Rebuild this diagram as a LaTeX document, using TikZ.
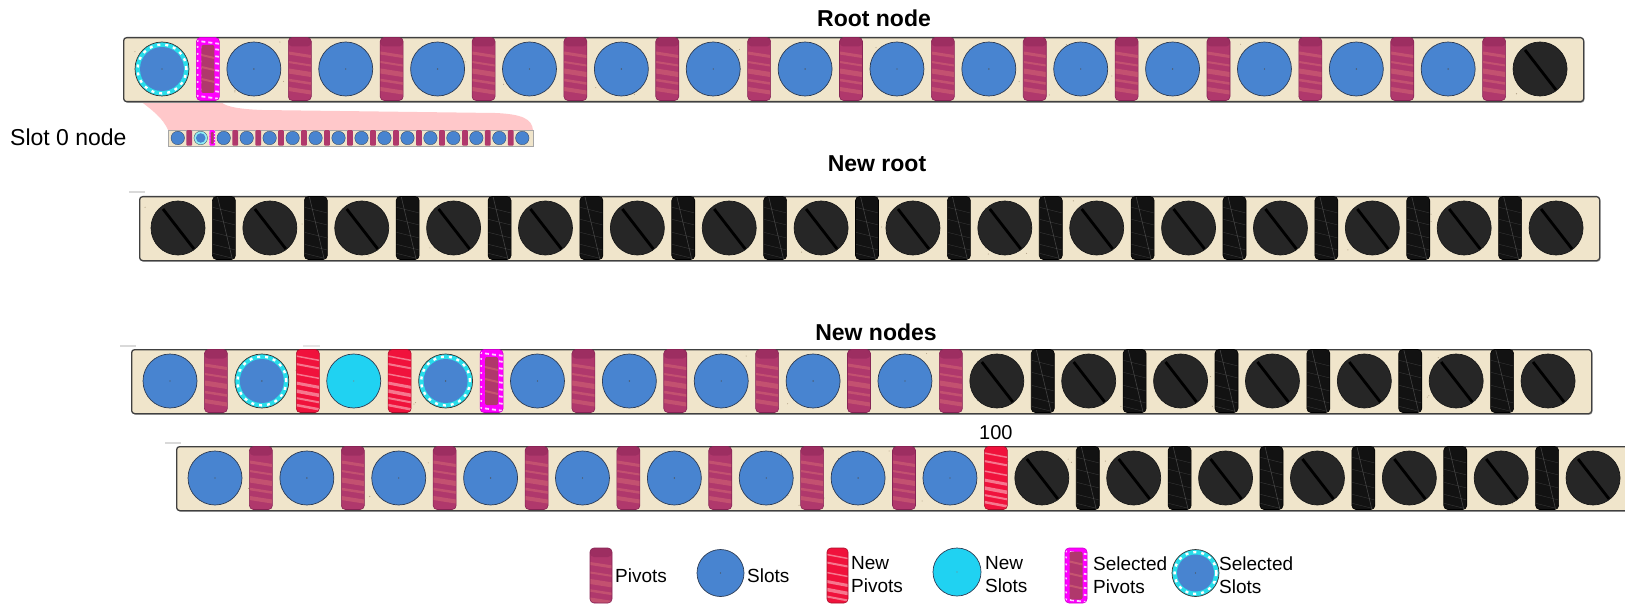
\documentclass[tikz,border=0pt]{standalone}
\usepackage{fontspec}
\setmainfont{Liberation Sans}
\usetikzlibrary{calc}
\definecolor{beige}{RGB}{240,229,203}
\definecolor{slotblue}{RGB}{72,132,208}
\definecolor{slotedge}{RGB}{45,60,85}
\definecolor{newcyan}{RGB}{32,210,242}
\definecolor{selcyan}{RGB}{40,222,235}
\definecolor{pivpink}{RGB}{176,56,108}
\definecolor{pivdark}{RGB}{135,36,85}
\definecolor{pivstreak}{RGB}{232,130,120}
\definecolor{newred}{RGB}{240,18,60}
\definecolor{selmag}{RGB}{255,0,255}
\definecolor{blk}{RGB}{38,38,38}
\definecolor{funnel}{RGB}{255,200,202}
\definecolor{speck}{RGB}{120,100,70}
\tikzset{
  rowbox/.style={rectangle, rounded corners=3pt, fill=beige, draw=black!75, line width=1.3pt, inner sep=0pt, minimum width=1460pt, minimum height=64pt, anchor=north west},
  slotbase/.style={circle, inner sep=0pt, minimum size=54pt, draw=slotedge, line width=0.7pt},
  slb/.style={slotbase, fill=slotblue, path picture={\fill[black!70] (path picture bounding box.center) circle (0.7pt);}},
  slc/.style={slotbase, fill=newcyan, path picture={\fill[black!50] (path picture bounding box.center) circle (0.6pt);}},
  selslot/.style={slotbase, minimum size=#1pt, fill=selcyan, draw=black!80, path picture={
      \path (path picture bounding box.center) coordinate (cc);
      \draw[white, line width=2.4pt, dash pattern=on 3pt off 5pt] (cc) circle[radius={(#1/2-2.6)*1pt}];
      \fill[slotblue] (cc) circle[radius={(#1/2-5)*1pt}];
      \fill[black!70] (cc) circle (0.7pt);}},
  sls/.style={selslot=54},
  slk/.style={slotbase, fill=blk, draw=black!90, path picture={
      \path (path picture bounding box.center) coordinate (cc);
      \draw[black, line width=2.8pt] ($(cc)+(-15pt,19pt)$) -- ($(cc)+(16pt,-21pt)$);}},
  pvbase/.style={rectangle, rounded corners=4pt, inner sep=0pt, minimum width=23pt, minimum height=63pt, line width=0.6pt},
  pvp/.style={pvbase, fill=pivpink, draw=pivdark, path picture={
      \path (path picture bounding box.north west) coordinate (nw);
      \fill[pivdark, opacity=.45] (nw) rectangle ($(path picture bounding box.north east)+(0pt,-9pt)$);
      \foreach \o/\w in {15/3,24/2,33/5,42/2.5,51/4}{\draw[pivstreak, line width=\w pt, opacity=.35] ($(nw)+(-3pt,-\o pt)$) -- ++(32pt,-5pt);}}},
  pvn/.style={pvbase, fill=newred, draw=newred!70!black, path picture={
      \path (path picture bounding box.north west) coordinate (nw);
      \foreach \o/\w in {6/1.5,14/2,24/1.5,33/3,41/3.5,48/2,55/2.5}{\draw[white!80!pink, line width=\w pt, opacity=.45] ($(nw)+(-3pt,-\o pt)$) -- ++(32pt,-6pt);}}},
  pvS/.style={pvbase, fill=selmag, draw=selmag!80!black, path picture={
      \path (path picture bounding box.north west) coordinate (nw) (path picture bounding box.center) coordinate (cc);
      \foreach \o in {3,9,16,23,30,37,44,51,58,64}{\draw[white, line width=1.8pt, dash pattern=on 4pt off 3pt, opacity=.8] ($(nw)+(-2pt,-\o pt)$) -- ++(30pt,-4pt);}
      \fill[pivpink, rounded corners=2pt] ($(cc)+(-6.5pt,-24pt)$) rectangle ($(cc)+(6.5pt,24pt)$);
      \foreach \o in {-10,2,14}{\draw[pivstreak, line width=2pt, opacity=.4] ($(cc)+(-6.5pt,\o pt)$) -- ++(13pt,-3pt);}}},
  pvk/.style={pvbase, fill=black!93, draw=black, path picture={
      \path (path picture bounding box.north west) coordinate (nw);
      \foreach \o in {10,22,35,47,56}{\draw[gray!70, line width=.4pt, opacity=.25] ($(nw)+(-3pt,-\o pt)$) -- ++(32pt,-8pt);}
      \draw[gray!60, opacity=.3, line width=.6pt] ($(nw)+(5pt,0pt)$) -- ($(path picture bounding box.south east)+(-3pt,0pt)$);}},
  mslb/.style={circle, inner sep=0pt, minimum size=13.5pt, fill=slotblue, draw=slotedge, line width=.3pt},
  msls/.style={mslb, fill=selcyan!50!white, path picture={\fill[slotblue] (path picture bounding box.center) circle (4.8pt);}},
  mpvp/.style={rectangle, inner sep=0pt, minimum width=5.75pt, minimum height=15.5pt, rounded corners=1pt, fill=pivpink},
  mpvS/.style={mpvp, fill=selmag, path picture={
      \path (path picture bounding box.center) coordinate (cc);
      \fill[pivpink] ($(cc)+(-1.3pt,-6pt)$) rectangle ($(cc)+(1.3pt,6pt)$);
      \foreach \o in {-6,-3,0,3,6}{\fill[white] ($(cc)+(-2.3pt,\o pt)$) circle (0.5pt); \fill[white] ($(cc)+(2.3pt,\o pt+1.5pt)$) circle (0.5pt);}}},
  title/.style={font=\bfseries\fontsize{23}{27}\selectfont, anchor=base, inner sep=0pt},
  lab/.style={font=\fontsize{19}{23}\selectfont, anchor=base west, inner sep=0pt},
  lab2/.style={font=\fontsize{19}{23}\selectfont, anchor=west, align=left, inner sep=0pt},
}
\newcommand\noderow[5]{%
  \fill[black!30, rounded corners=3pt] ({#2+1.5},{#3+1.8}) rectangle ({#2+1461.5},{#3+65.8});
  \node[rowbox] (#1) at (#2,#3) {};
  \foreach \k in {1,...,60}{%
    \pgfmathsetmacro\sx{#2+6+rnd*1448}%
    \pgfmathsetmacro\sy{#3+4+rnd*56}%
    \fill[speck, opacity=.55] (\sx,\sy) circle (0.55pt);}
  \foreach \tp [count=\i from 0] in {#4}{\node[sl\tp] (#1s\i) at ({#2+39+\i*91.87},{#3+32}) {};}
  \foreach \tp [count=\i from 0] in {#5}{\node[pv\tp] (#1p\i) at ({#2+39+(\i+0.5)*91.87},{#3+32}) {};}
}
\begin{document}
\begin{tikzpicture}[x=1pt,y=-1pt]
\useasboundingbox (0,0) rectangle (1625,604);
\pgfmathsetseed{7}
% funnel from root slot 0 to slot 0 node
\fill[funnel] (139,100) .. controls (152,110) and (163,118) .. (168,130) -- (533,130)
  .. controls (532,119) and (522,114) .. (495,113) -- (262,110)
  .. controls (236,109) and (222,106) .. (220,100) -- cycle;
% faint ghost marks
\draw[gray!30, line width=1.5pt] (129,192) -- (145,192);
\draw[gray!30, line width=1.5pt] (120,346) -- (136,346);
\draw[gray!20, line width=1.5pt] (303,346) -- (320,346);
\draw[gray!30, line width=1.5pt] (165,443) -- (181,443);
% titles
\node[title] (t1) at (874,27) {Root node};
\node[title] (t2) at (877,172) {New root};
\node[title] (t3) at (876,340) {New nodes};
\node[font=\fontsize{23}{27}\selectfont, anchor=base west, inner sep=0pt] (t0) at (10,146) {Slot 0 node};
% rows
\noderow{ra}{123}{37}{s,b,b,b,b,b,b,b,b,b,b,b,b,b,b,k}{S,p,p,p,p,p,p,p,p,p,p,p,p,p,p}
\noderow{rb}{139}{196}{k,k,k,k,k,k,k,k,k,k,k,k,k,k,k,k}{k,k,k,k,k,k,k,k,k,k,k,k,k,k,k}
\noderow{rc}{131}{349}{b,s,c,s,b,b,b,b,b,k,k,k,k,k,k,k}{p,n,n,S,p,p,p,p,p,k,k,k,k,k,k}
\noderow{rd}{176}{446}{b,b,b,b,b,b,b,b,b,k,k,k,k,k,k,k}{p,p,p,p,p,p,p,p,n,k,k,k,k,k,k}
\node[font=\fontsize{20}{24}\selectfont, anchor=base, inner sep=0pt] (lbl100) at (rdp8 |- 0,439) {100};
% slot 0 node (miniature)
\node[rectangle, fill=beige, draw=gray!70, line width=.6pt, inner sep=0pt, minimum width=365pt, minimum height=16pt, anchor=north west] (mini) at (168,130) {};
\foreach \tp [count=\i from 0] in {b,s,b,b,b,b,b,b,b,b,b,b,b,b,b,b}{\node[msl\tp] (ms\i) at ({168+9.75+\i*22.97},138) {};}
\foreach \tp [count=\i from 0] in {p,S,p,p,p,p,p,p,p,p,p,p,p,p,p}{\node[mpv\tp] (mp\i) at ({168+9.75+(\i+0.5)*22.97},138) {};}
% legend
\node[pvp, minimum height=55pt, minimum width=22pt] (lp) at (601,575.5) {};
\node[lab] (lpt) at (615,582) {Pivots};
\node[slb, minimum size=47pt] (ls) at (720.5,573) {};
\node[lab] (lst) at (747,582) {Slots};
\node[pvn, minimum height=55pt, minimum width=21pt] (lnp) at (837.5,575.5) {};
\node[lab2] (lnpt) at (851,575) {New\\Pivots};
\node[slc, minimum size=48pt] (lnc) at (957,572) {};
\node[lab2] (lnct) at (985,575) {New\\Slots};
\node[pvS, minimum height=55pt, minimum width=22pt] (lsp) at (1076,575.5) {};
\node[lab2] (lspt) at (1093,575) {Selected\\Pivots};
\node[selslot=47] (lss) at (1195.5,573) {};
\node[lab2] (lsst) at (1219,575) {Selected\\Slots};
\end{tikzpicture}
\end{document}
